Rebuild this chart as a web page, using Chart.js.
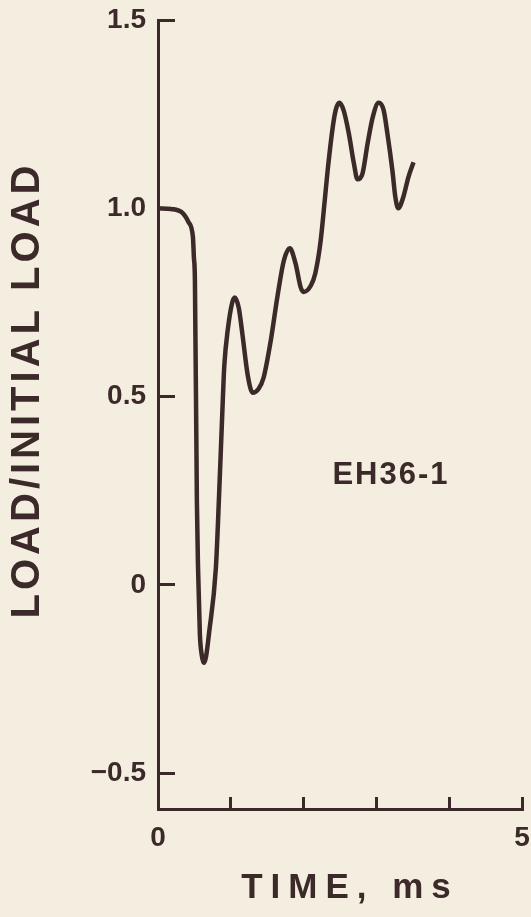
<!DOCTYPE html>
<html>
<head>
<meta charset="utf-8">
<title>EH36-1 load history</title>
<script src="https://cdn.jsdelivr.net/npm/chart.js@4"></script>
<style>
    html, body {
        margin: 0;
        padding: 0;
        background: #f4eee0;
    }
    .chart-box {
        position: relative;
        width: 531px;
        height: 917px;
    }
</style>
</head>
<body>
<div class="chart-box">
    <canvas id="loadChart"></canvas>
</div>
<script>
// Data (time in ms, load / initial load)
const timeMs = [
    0.00, 0.18, 0.34, 0.42, 0.48, 0.493, 0.507, 0.534, 0.55,
    0.575, 0.60, 0.63, 0.66, 0.70, 0.795, 0.836, 0.89, 0.91, 0.96,
    1.02, 1.055, 1.11, 1.16, 1.23, 1.30, 1.38, 1.45, 1.55, 1.64,
    1.73, 1.81, 1.89, 1.96, 2.00, 2.10, 2.16, 2.23, 2.29, 2.33,
    2.40, 2.44, 2.49, 2.55, 2.62, 2.69, 2.74, 2.81, 2.88, 2.95,
    3.03, 3.10, 3.15, 3.22, 3.26, 3.30, 3.37, 3.44, 3.51
];
const loadRatio = [
    1.000, 0.998, 0.987, 0.963, 0.923, 0.870, 0.810, 0.223, 0.045,
    -0.130, -0.185, -0.207, -0.190, -0.130, 0.045, 0.223, 0.490, 0.580, 0.680,
    0.750, 0.763, 0.735, 0.665, 0.560, 0.510, 0.520, 0.550, 0.650, 0.765,
    0.862, 0.894, 0.853, 0.790, 0.778, 0.795, 0.827, 0.907, 1.020, 1.100,
    1.215, 1.260, 1.280, 1.260, 1.200, 1.120, 1.077, 1.093, 1.173, 1.242,
    1.280, 1.260, 1.200, 1.100, 1.030, 1.000, 1.030, 1.083, 1.122
];

// Axis ticks
const xTickValues = [0, 1, 2, 3, 4, 5];
const xTickLabels = ['0', '', '', '', '', '5'];
const yTickValues = [-0.5, 0, 0.5, 1.0, 1.5];
const yTickLabels = ['\u22120.5', '0', '0.5', '1.0', '1.5'];

// Text
const xTitle = 'TIME, ms';
const yTitle = 'LOAD/INITIAL LOAD';
const specimen = 'EH36-1';
const specimenAt = { x: 3.2, y: 0.29 };

const INK = '#3b2a29';
const FONT = '"Liberation Sans", Arial, sans-serif';

// Titles and specimen label, drawn with some letter spacing like the original
const textPlugin = {
    id: 'plotText',
    afterDraw(chart) {
        const ctx = chart.ctx;
        const { x, y } = chart.scales;

        ctx.save();
        ctx.fillStyle = INK;
        ctx.textAlign = 'center';
        ctx.textBaseline = 'middle';

        // y title, rotated
        ctx.save();
        ctx.font = 'bold 40px ' + FONT;
        ctx.letterSpacing = '4px';
        ctx.translate(28, 390);
        ctx.rotate(-Math.PI / 2);
        ctx.fillText(yTitle, 0, 0);
        ctx.restore();

        // x title
        ctx.font = 'bold 35px ' + FONT;
        ctx.letterSpacing = '8px';
        ctx.fillText(xTitle, 350, 888);

        // specimen label
        ctx.font = 'bold 31px ' + FONT;
        ctx.letterSpacing = '2px';
        ctx.fillText(specimen, x.getPixelForValue(specimenAt.x), y.getPixelForValue(specimenAt.y));

        ctx.restore();
    }
};

// keep the plot box where the original has it
function noScalePadding(scale) {
    scale.paddingTop = 0;
    scale.paddingBottom = 0;
    scale.paddingLeft = 0;
    scale.paddingRight = 0;
}

const ctx = document.getElementById('loadChart');

new Chart(ctx, {
    type: 'line',
    data: {
        datasets: [{
            data: timeMs.map((t, i) => ({ x: t, y: loadRatio[i] })),
            borderColor: INK,
            borderWidth: 4.5,
            pointRadius: 0,
            cubicInterpolationMode: 'monotone',
            fill: false
        }]
    },
    options: {
        responsive: true,
        maintainAspectRatio: false,
        animation: false,
        layout: {
            padding: { top: 20, right: 9, left: 0, bottom: 0 }
        },
        plugins: {
            legend: { display: false },
            tooltip: { enabled: false }
        },
        scales: {
            x: {
                type: 'linear',
                min: 0,
                max: 5,
                afterBuildTicks: (scale) => {
                    scale.ticks = xTickValues.map(v => ({ value: v }));
                },
                afterFit: (scale) => {
                    scale.height = 108;
                    noScalePadding(scale);
                },
                ticks: {
                    autoSkip: false,
                    maxRotation: 0,
                    padding: 24,
                    color: INK,
                    font: { family: FONT, size: 28, weight: 'bold' },
                    callback: (value) => {
                        const i = xTickValues.indexOf(value);
                        return i >= 0 ? xTickLabels[i] : null;
                    }
                },
                grid: {
                    drawOnChartArea: false,
                    drawTicks: true,
                    tickLength: -12,
                    tickWidth: 3,
                    tickColor: INK
                },
                border: {
                    display: true,
                    color: INK,
                    width: 3
                }
            },
            y: {
                min: -0.595,
                max: 1.5,
                afterBuildTicks: (scale) => {
                    scale.ticks = yTickValues.map(v => ({ value: v }));
                },
                afterFit: (scale) => {
                    scale.width = 158;
                    noScalePadding(scale);
                },
                ticks: {
                    autoSkip: false,
                    padding: 29,
                    color: INK,
                    font: { family: FONT, size: 28, weight: 'bold' },
                    callback: (value) => {
                        const i = yTickValues.indexOf(value);
                        return i >= 0 ? yTickLabels[i] : null;
                    }
                },
                grid: {
                    drawOnChartArea: false,
                    drawTicks: true,
                    tickLength: -17,
                    tickWidth: 3,
                    tickColor: INK
                },
                border: {
                    display: true,
                    color: INK,
                    width: 3
                }
            }
        }
    },
    plugins: [textPlugin]
});
</script>
</body>
</html>
